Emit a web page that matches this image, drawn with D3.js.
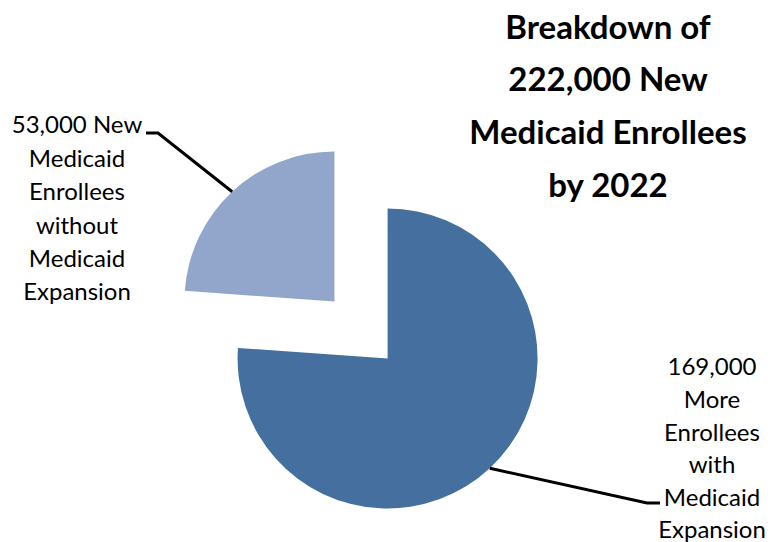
<!DOCTYPE html>
<html>
<head>
<meta charset="utf-8">
<script src="https://cdn.jsdelivr.net/npm/d3@7"></script>
<style>
  body { margin: 0; background: #fff; }
  svg { display: block; }
  .label { font-family: Lato, "Open Sans", sans-serif; font-size: 24px; fill: #000; }
  .title { font-family: Lato, "Open Sans", sans-serif; font-size: 33px; font-weight: bold; fill: #000; }
</style>
</head>
<body>
<svg id="chart"></svg>
<script>
// data
const categories = ["More Enrollees with Medicaid Expansion", "New Medicaid Enrollees without Medicaid Expansion"];
const values = [169000, 53000];
const labelLines = [
  ["169,000", "More", "Enrollees", "with", "Medicaid", "Expansion"],
  ["53,000 New", "Medicaid", "Enrollees", "without", "Medicaid", "Expansion"]
];
const titleLines = ["Breakdown of", "222,000 New", "Medicaid Enrollees", "by 2022"];
const colors = ["#446f9f", "#91a6ca"];

const width = 781, height = 542;
const cx = 361, cy = 330, radius = 150, explode = 39;

const svg = d3.select("#chart")
    .attr("width", width)
    .attr("height", height);

const pie = d3.pie().sort(null).value(d => d)
    .startAngle(0).endAngle(2 * Math.PI);
const arcs = pie(values);

const arc = d3.arc().innerRadius(0).outerRadius(radius);

// offset of each slice along its bisector
function offset(d, r) {
  const a = (d.startAngle + d.endAngle) / 2;
  return [Math.sin(a) * r, -Math.cos(a) * r];
}

const g = svg.append("g")
    .attr("transform", `translate(${cx},${cy})`);

g.selectAll(".slice")
    .data(arcs)
    .enter()
  .append("path")
    .attr("class", "slice")
    .attr("d", arc)
    .attr("fill", (d, i) => colors[i])
    .attr("transform", d => {
      const [ox, oy] = offset(d, explode);
      return `translate(${ox},${oy})`;
    });

// leader lines (label anchor points next to the labels)
const anchors = [[647, 503, 660, 503], [158, 133, 146, 133]];
arcs.forEach((d, i) => {
  const p = offset(d, explode + radius);
  const a = anchors[i];
  svg.append("polyline")
      .attr("points", `${cx + p[0]},${cy + p[1]} ${a[0]},${a[1]} ${a[2]},${a[3]}`)
      .attr("fill", "none")
      .attr("stroke", "#000")
      .attr("stroke-width", 3);
});

// data labels
const labelPos = [{x: 712, y: 367, step: 32.6}, {x: 77, y: 125, step: 33.4}];
labelLines.forEach((lines, i) => {
  const t = svg.append("text")
      .attr("class", "label")
      .attr("text-anchor", "middle");
  lines.forEach((line, j) => {
    t.append("tspan")
        .attr("x", labelPos[i].x)
        .attr("y", labelPos[i].y + j * labelPos[i].step)
        .attr("dy", "0.35em")
        .text(line);
  });
});

// title
const title = svg.append("text")
    .attr("class", "title")
    .attr("text-anchor", "middle");
titleLines.forEach((line, j) => {
  title.append("tspan")
      .attr("x", 608)
      .attr("y", 27 + j * 52.7)
      .attr("dy", "0.35em")
      .text(line);
});
</script>
</body>
</html>
